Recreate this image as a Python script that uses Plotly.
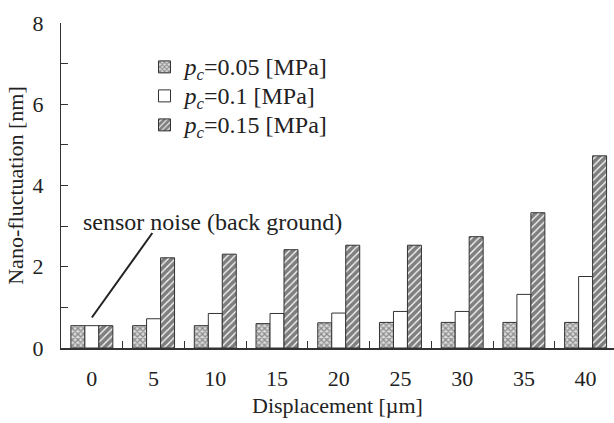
import plotly.graph_objects as go

categories = ["0", "5", "10", "15", "20", "25", "30", "35", "40"]
p005 = [0.55, 0.55, 0.55, 0.60, 0.62, 0.63, 0.63, 0.63, 0.63]
p01 = [0.55, 0.72, 0.85, 0.85, 0.86, 0.90, 0.90, 1.32, 1.76]
p015 = [0.55, 2.22, 2.31, 2.42, 2.53, 2.53, 2.74, 3.33, 4.73]
names = ["<i>p<sub>c</sub></i>=0.05 [MPa]",
         "<i>p<sub>c</sub></i>=0.1 [MPa]",
         "<i>p<sub>c</sub></i>=0.15 [MPa]"]

FONT = "Liberation Serif, Times New Roman, serif"
LINE = "#333333"


def legend_label(t):
    return '<span style="font-size:24px">' + t + '</span>'


fig = go.Figure()
fig.add_trace(go.Bar(
    x=categories, y=p005, name=legend_label(names[0]),
    marker=dict(color="#d0d0d0", line=dict(color=LINE, width=1),
                pattern=dict(shape="x", size=4, solidity=0.55,
                             fgcolor="#3a3a3a", bgcolor="#dcdcdc")),
))
fig.add_trace(go.Bar(
    x=categories, y=p01, name=legend_label(names[1]),
    marker=dict(color="white", line=dict(color=LINE, width=1)),
))
fig.add_trace(go.Bar(
    x=categories, y=p015, name=legend_label(names[2]),
    marker=dict(color="white", line=dict(color=LINE, width=1),
                pattern=dict(shape="/", size=5, solidity=0.75,
                             fgcolor="#000000", bgcolor="white")),
))

# annotation line and text
fig.add_shape(type="line", xref="x", yref="y", x0=0, y0=0.75, x1=0.98, y1=2.83,
              line=dict(color="#222222", width=2))
fig.add_annotation(x=0.0, y=3.1, xref="x", yref="y", xanchor="left", yanchor="middle",
                   xshift=-11, text="sensor noise (back ground)", showarrow=False,
                   font=dict(family=FONT, size=24, color="#222222"))

fig.update_layout(
    width=614, height=423,
    margin=dict(l=61, r=0, t=23, b=75, autoexpand=False),
    paper_bgcolor="white", plot_bgcolor="white",
    barmode="group", bargap=0.32, bargroupgap=0,
    font=dict(family=FONT, size=22, color="#222222"),
    showlegend=True,
    legend=dict(x=0.151, y=0.925, xanchor="left", yanchor="top",
                bgcolor="rgba(0,0,0,0)", traceorder="normal",
                font=dict(family=FONT, size=20)),
)
fig.update_xaxes(
    type="category", range=[-0.5, 8.46], automargin=False,
    showline=True, linecolor=LINE, linewidth=1.5,
    ticks="inside", tickson="boundaries", ticklen=7, tickcolor=LINE,
    showgrid=False, zeroline=False,
    ticklabelstandoff=10,
    title=dict(text="Displacement [µm]", font=dict(family=FONT, size=22), standoff=7),
)
fig.update_yaxes(
    range=[0, 8], dtick=2, tick0=0, automargin=False,
    showline=True, linecolor=LINE, linewidth=1,
    ticks="inside", ticklen=7, tickcolor=LINE,
    minor=dict(dtick=1, ticks="inside", ticklen=7, tickcolor=LINE, showgrid=False),
    showgrid=False, zeroline=False,
    ticklabelstandoff=12,
    title=dict(text="Nano-fluctuation [nm]", font=dict(family=FONT, size=22), standoff=2),
)

fig.write_html("out.html", config={"displayModeBar": False},
               post_script="document.body.style.margin='0px';document.body.style.overflow='hidden';")
